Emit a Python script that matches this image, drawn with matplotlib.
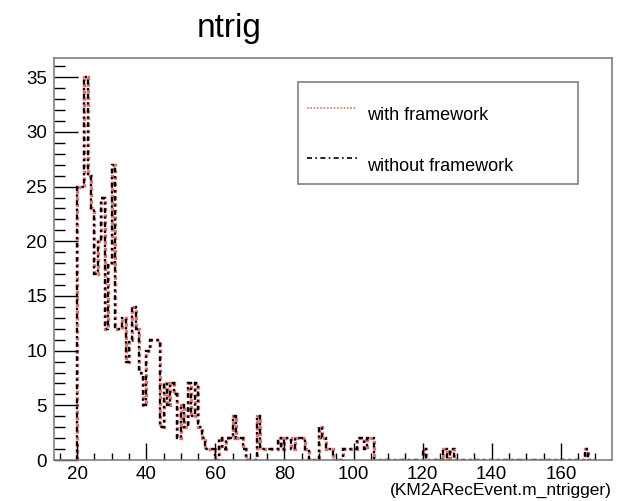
import numpy as np
import matplotlib
matplotlib.use("Agg")
import matplotlib.pyplot as plt
from matplotlib.patches import Rectangle
from matplotlib.ticker import MultipleLocator

plt.rcParams["font.family"] = ["Liberation Sans", "DejaVu Sans"]

# -------------------------------------------------
# DATA (one bin per unit of ntrigger, first bin at 20)
# -------------------------------------------------
first_bin = 20
counts = [
    25, 25, 35, 26, 23, 17, 20, 24, 12, 18,   # 20-29
    27, 12, 12, 13, 9, 11, 14, 12, 8, 5,      # 30-39
    10, 11, 11, 11, 3, 7, 5, 7, 6, 2,         # 40-49
    5, 3, 7, 4, 7, 3, 2, 1, 1, 1,             # 50-59
    0, 2, 1, 2, 2, 4, 2, 2, 1, 0,             # 60-69
    0, 0, 4, 1, 1, 1, 1, 1, 2, 1,             # 70-79
    2, 2, 1, 2, 2, 2, 1, 0, 0, 0,             # 80-89
    3, 2, 1, 1, 0, 0, 0, 1, 1, 1,             # 90-99
    1, 2, 2, 1, 2, 2, 0, 0, 0, 0,             # 100-109
    0, 0, 0, 0, 0, 0, 0, 0, 0, 0,             # 110-119
    1, 0, 0, 0, 0, 0, 1, 0, 1, 0,             # 120-129
    0, 0, 0, 0, 0, 0, 0, 0, 0, 0,             # 130-139
    0, 0, 0, 0, 0, 0, 0, 0, 0, 0,             # 140-149
    0, 0, 0, 0, 0, 0, 0, 0, 0, 0,             # 150-159
    0, 0, 0, 0, 0, 0, 0, 1, 0, 0,             # 160-169
]
series_labels = ["with framework", "without framework"]
title = "ntrig"
xlabel = "(KM2ARecEvent.m_ntrigger)"

edges = np.arange(first_bin, first_bin + len(counts) + 1)

# -------------------------------------------------
# FIGURE
# -------------------------------------------------
fig = plt.figure(figsize=(6.26, 5.01), dpi=100)
ax = fig.add_axes([0.0863, 0.0818, 0.8913, 0.8022])

ax.stairs(counts, edges, color="#e07070", linestyle=(0, (1, 1)), linewidth=2.4)
ax.stairs(counts, edges, color="black", linestyle=(0, (2, 1.5, 1, 1.5)), linewidth=1.7)

ax.set_xlim(13.3, 174.8)
ax.set_ylim(0, 36.75)

ax.xaxis.set_major_locator(MultipleLocator(20))
ax.xaxis.set_minor_locator(MultipleLocator(5))
ax.yaxis.set_major_locator(MultipleLocator(5))
ax.yaxis.set_minor_locator(MultipleLocator(1))
ax.tick_params(axis="x", which="major", direction="in", length=12, width=1, labelsize=13.5, pad=4)
ax.tick_params(axis="x", which="minor", direction="in", length=5, width=1)
ax.tick_params(axis="y", which="major", direction="in", length=17, width=1, labelsize=13.5, pad=5)
ax.tick_params(axis="y", which="minor", direction="in", length=8, width=1)
for s in ax.spines.values():
    s.set_color("#808080")
    s.set_linewidth(1.2)

# -------------------------------------------------
# LEGEND (ROOT-style box)
# -------------------------------------------------
ax.add_patch(Rectangle((0.437, 0.687), 0.502, 0.254, transform=ax.transAxes,
                       facecolor="white", edgecolor="#808080", linewidth=1.2, zorder=3))
ax.plot([0.453, 0.543], [0.876, 0.876], transform=ax.transAxes, color="#e07070",
        linestyle=(0, (1, 1)), linewidth=1.2, zorder=4)
ax.plot([0.453, 0.543], [0.751, 0.751], transform=ax.transAxes, color="black",
        linestyle=(0, (3, 2, 1, 2)), linewidth=1.2, zorder=4)
ax.text(0.561, 0.858, series_labels[0], transform=ax.transAxes, fontsize=13,
        va="center", ha="left", zorder=4)
ax.text(0.561, 0.731, series_labels[1], transform=ax.transAxes, fontsize=13,
        va="center", ha="left", zorder=4)

# -------------------------------------------------
# TITLES
# -------------------------------------------------
fig.text(229 / 626, 1 - 28 / 501, title, fontsize=24, ha="center", va="center")
fig.text(612 / 626, 1 - 490 / 501, xlabel, fontsize=12.5, ha="right", va="center")

fig.savefig("out.png", dpi=100, facecolor="white")
